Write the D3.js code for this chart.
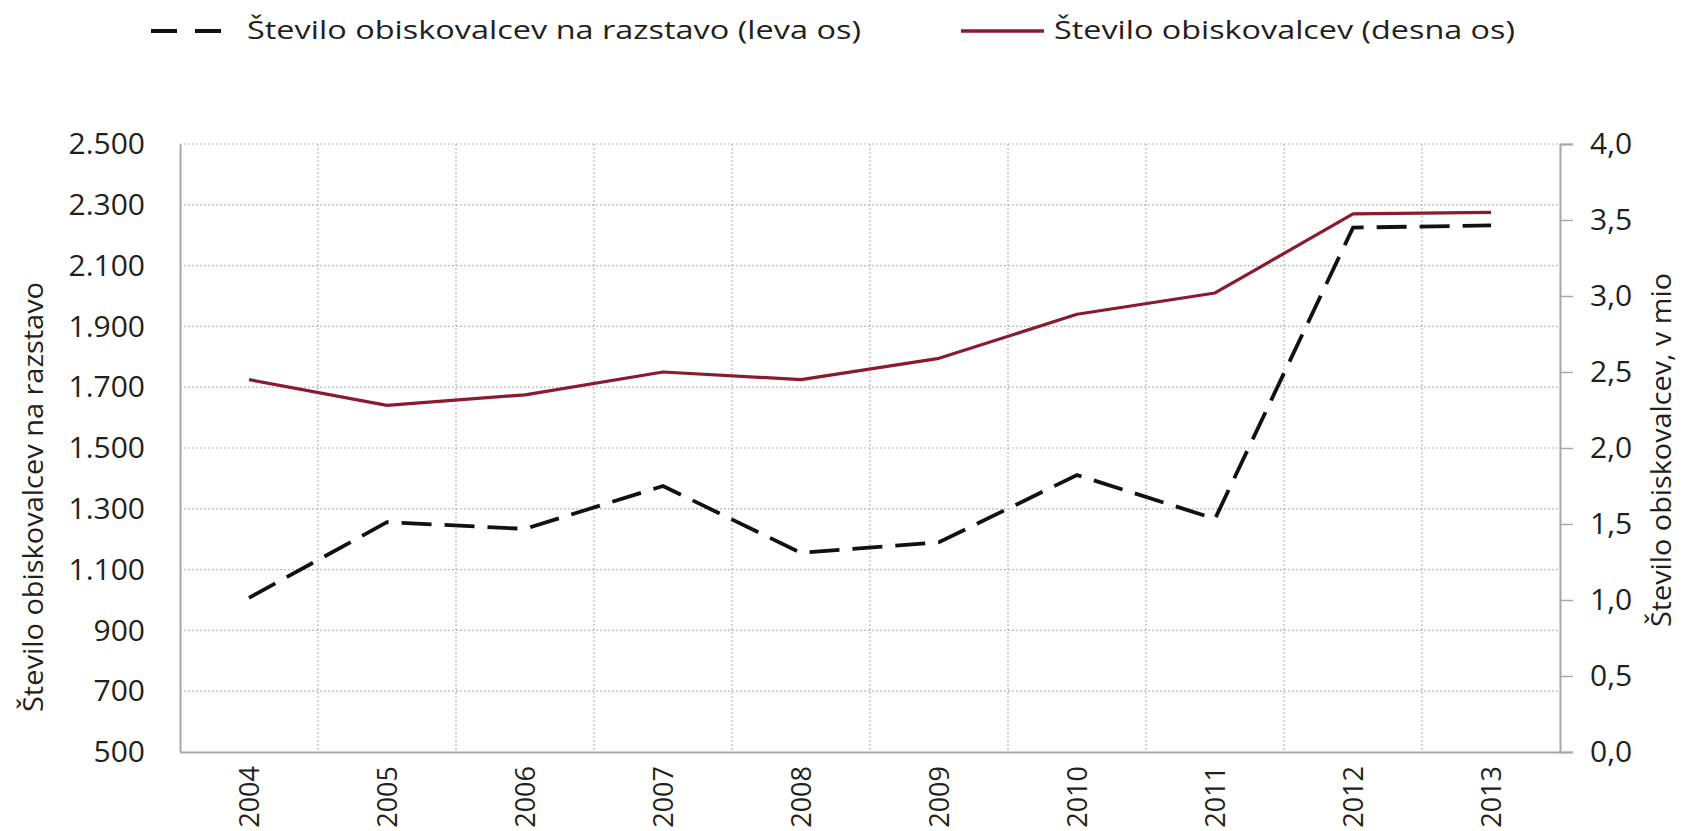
<!DOCTYPE html>
<html>
<head>
<meta charset="utf-8">
<script src="https://cdn.jsdelivr.net/npm/d3@7"></script>
<style>
  html, body { margin: 0; padding: 0; background: #fff; }
  svg { display: block; font-family: "Open Sans", "Noto Sans", sans-serif; }
  svg text { font-family: "Open Sans", "Noto Sans", sans-serif; }
</style>
</head>
<body>
<svg id="chart" width="1684" height="831"></svg>
<script>
// ---- data ----
const years = ["2004", "2005", "2006", "2007", "2008", "2009", "2010", "2011", "2012", "2013"];
const visitorsExhibition = [1007, 1256, 1234, 1375, 1155, 1190, 1411, 1267, 2225, 2232]; // left axis
const visitorsTotal = [2.45, 2.28, 2.35, 2.50, 2.45, 2.59, 2.88, 3.02, 3.54, 3.55];   // right axis, mio
const leftTicks = [500, 700, 900, 1100, 1300, 1500, 1700, 1900, 2100, 2300, 2500];
const rightTicks = [0, 0.5, 1, 1.5, 2, 2.5, 3, 3.5, 4];
const seriesNames = ["Število obiskovalcev na razstavo (leva os)", "Število obiskovalcev (desna os)"];
const leftTitle = "Število obiskovalcev na razstavo";
const rightTitle = "Število obiskovalcev, v mio";

// ---- layout ----
const m = { left: 180, right: 1560, top: 144, bottom: 752 };
const textColor = "#231f20";
const redColor = "#8a1a2e";
const gridColor = "#b8b8b8";
const axisColor = "#a8a8a8";
const fontFam = '"Open Sans", "Noto Sans", sans-serif';

const loc = d3.formatLocale({ decimal: ",", thousands: ".", grouping: [3], currency: ["", " €"] });
const fmtLeft = loc.format(",d");
const fmtRight = loc.format(".1f");

const svg = d3.select("#chart");

const x = d3.scaleBand().domain(years).range([m.left, m.right]).padding(0);
const yL = d3.scaleLinear().domain([500, 2500]).range([m.bottom, m.top]);
const yR = d3.scaleLinear().domain([0, 4]).range([m.bottom, m.top]);
const cx = d => x(d) + x.bandwidth() / 2;

// ---- gridlines ----
const grid = svg.append("g");
grid.selectAll("line.h").data(leftTicks.filter(t => t !== 500)).enter().append("line")
  .attr("x1", m.left).attr("x2", m.right)
  .attr("y1", d => yL(d)).attr("y2", d => yL(d))
  .attr("stroke", gridColor).attr("stroke-width", 1.2).attr("stroke-dasharray", "2,2");
grid.selectAll("line.v").data(years.slice(0, -1)).enter().append("line")
  .attr("x1", d => x(d) + x.bandwidth()).attr("x2", d => x(d) + x.bandwidth())
  .attr("y1", m.top).attr("y2", m.bottom)
  .attr("stroke", gridColor).attr("stroke-width", 1.2).attr("stroke-dasharray", "2,2");

// ---- axes ----
const axL = svg.append("g").attr("transform", `translate(${m.left},0)`)
  .call(d3.axisLeft(yL).tickValues(leftTicks).tickFormat(fmtLeft).tickSize(0).tickPadding(35));
axL.attr("font-family", fontFam);
axL.select(".domain").attr("stroke", axisColor).attr("stroke-width", 2);
axL.selectAll(".tick text").attr("font-size", 30).attr("fill", textColor);

const axR = svg.append("g").attr("transform", `translate(${m.right},0)`)
  .call(d3.axisRight(yR).tickValues(rightTicks).tickFormat(fmtRight).tickSize(13).tickPadding(17));
axR.attr("font-family", fontFam);
axR.select(".domain").attr("stroke", axisColor).attr("stroke-width", 2);
axR.selectAll(".tick line").attr("stroke", axisColor).attr("stroke-width", 1.5);
axR.selectAll(".tick text").attr("font-size", 30).attr("fill", textColor);

const axB = svg.append("g").attr("transform", `translate(0,${m.bottom})`)
  .call(d3.axisBottom(x).tickSize(0).tickPadding(0));
axB.attr("font-family", fontFam);
axB.select(".domain").attr("stroke", axisColor).attr("stroke-width", 2);
axB.selectAll(".tick text")
  .attr("font-size", 27).attr("fill", textColor)
  .attr("text-anchor", "end")
  .attr("transform", "translate(0,14) rotate(-90)")
  .attr("x", 0).attr("y", 0).attr("dy", "0.36em");

// ---- lines ----
const lineR = d3.line().x((d, i) => cx(years[i])).y(d => yR(d));
const lineL = d3.line().x((d, i) => cx(years[i])).y(d => yL(d));

svg.append("path").datum(visitorsTotal)
  .attr("d", lineR).attr("fill", "none")
  .attr("stroke", redColor).attr("stroke-width", 3.2).attr("stroke-linejoin", "round");

svg.append("path").datum(visitorsExhibition)
  .attr("d", lineL).attr("fill", "none")
  .attr("stroke", "#111").attr("stroke-width", 3.8)
  .attr("stroke-dasharray", "30,13");

// ---- axis titles ----
svg.append("text")
  .attr("transform", "translate(43,497) rotate(-90)")
  .attr("text-anchor", "middle").attr("font-size", 27).attr("fill", textColor)
  .attr("textLength", 430).attr("lengthAdjust", "spacingAndGlyphs")
  .text(leftTitle);
svg.append("text")
  .attr("transform", "translate(1671,450) rotate(-90)")
  .attr("text-anchor", "middle").attr("font-size", 27).attr("fill", textColor)
  .attr("textLength", 354).attr("lengthAdjust", "spacingAndGlyphs")
  .text(rightTitle);

// ---- legend ----
const lg = svg.append("g");
lg.append("line").attr("x1", 151).attr("x2", 221).attr("y1", 31).attr("y2", 31)
  .attr("stroke", "#111").attr("stroke-width", 4).attr("stroke-dasharray", "26,18");
lg.append("text").attr("x", 247).attr("y", 39).attr("font-size", 26).attr("fill", textColor)
  .attr("textLength", 614).attr("lengthAdjust", "spacingAndGlyphs")
  .text(seriesNames[0]);
lg.append("line").attr("x1", 961).attr("x2", 1044).attr("y1", 31).attr("y2", 31)
  .attr("stroke", redColor).attr("stroke-width", 3.5);
lg.append("text").attr("x", 1054).attr("y", 39).attr("font-size", 26).attr("fill", textColor)
  .attr("textLength", 461).attr("lengthAdjust", "spacingAndGlyphs")
  .text(seriesNames[1]);
</script>
</body>
</html>
